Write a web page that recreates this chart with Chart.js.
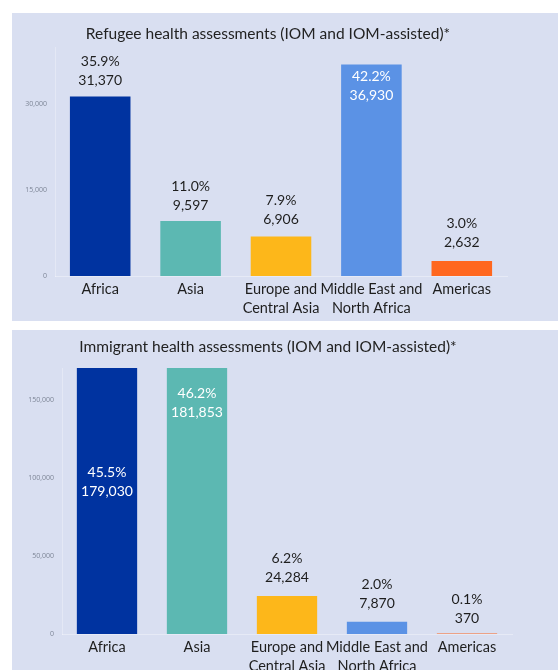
<!DOCTYPE html>
<html lang="en">
<head>
    <meta charset="UTF-8">
    <title>Health assessments by region</title>
    <script src="https://cdn.jsdelivr.net/npm/chart.js"></script>
    <style>
        body {
            margin: 0;
            background: #ffffff;
            font-family: 'Lato', sans-serif;
        }

        .panel {
            position: absolute;
            left: 12px;
            width: 546px;
            background: #d9dff1;
        }

        #refugeePanel {
            top: 13px;
            height: 308px;
        }

        #immigrantPanel {
            top: 330px;
            height: 340px;
        }
    </style>
</head>
<body>
    <div class="panel" id="refugeePanel"><canvas id="refugeeChart"></canvas></div>
    <div class="panel" id="immigrantPanel"><canvas id="immigrantChart"></canvas></div>

    <script>
        const regions = [
            'Africa',
            'Asia',
            ['Europe and', 'Central Asia'],
            ['Middle East and', 'North Africa'],
            'Americas'
        ];
        const regionColors = ['#0033a0', '#5cb8b2', '#fdb71a', '#5b92e5', '#ff671f'];

        const refugeeValues = [31370, 9597, 6906, 36930, 2632];
        const refugeeShares = ['35.9%', '11.0%', '7.9%', '42.2%', '3.0%'];
        const refugeeTicks = [0, 15000, 30000];

        const immigrantValues = [179030, 181853, 24284, 7870, 370];
        const immigrantShares = ['45.5%', '46.2%', '6.2%', '2.0%', '0.1%'];
        const immigrantTicks = [0, 50000, 100000, 150000];

        // panel title, drawn a bit left of the canvas centre like the original
        const panelTitle = {
            id: 'panelTitle',
            afterDraw(chart, args, opts) {
                const ctx = chart.ctx;
                ctx.save();
                ctx.font = '15.5px Lato';
                ctx.fillStyle = '#222222';
                ctx.textAlign = 'center';
                ctx.textBaseline = 'middle';
                ctx.fillText(opts.text, opts.x, opts.y);
                ctx.restore();
            }
        };

        // two-line value labels; offset < 0 means above the bar, > 0 inside it
        const valueLabels = {
            id: 'valueLabels',
            afterDatasetsDraw(chart, args, opts) {
                const ctx = chart.ctx;
                const meta = chart.getDatasetMeta(0);
                const values = chart.data.datasets[0].data;
                ctx.save();
                ctx.font = '14px Lato';
                ctx.textAlign = 'center';
                ctx.textBaseline = 'middle';
                meta.data.forEach((bar, i) => {
                    const top = Math.max(bar.y, chart.chartArea.top);
                    const off = opts.offsets[i];
                    const y = top + off;
                    ctx.fillStyle = off > 0 ? '#ffffff' : '#1e1e1e';
                    ctx.fillText(opts.shares[i], bar.x, y);
                    ctx.fillText(values[i].toLocaleString('en-US'), bar.x, y + 19);
                });
                ctx.restore();
            }
        };

        function makeChart(id, title, values, shares, ticks, max, opts) {
            return new Chart(document.getElementById(id), {
                type: 'bar',
                data: {
                    labels: regions,
                    datasets: [{
                        data: values,
                        backgroundColor: regionColors,
                        barPercentage: 0.67,
                        categoryPercentage: 1.0
                    }]
                },
                options: {
                    responsive: true,
                    maintainAspectRatio: false,
                    animation: false,
                    layout: { padding: { left: 0, top: opts.top, right: opts.right, bottom: 0 } },
                    plugins: {
                        legend: { display: false },
                        tooltip: { enabled: false },
                        title: { display: false },
                        panelTitle: { text: title, x: 256, y: opts.titleY },
                        valueLabels: { shares: shares, offsets: opts.offsets }
                    },
                    scales: {
                        x: {
                            grid: { display: false, drawTicks: false },
                            border: { color: 'rgba(255,255,255,0.35)' },
                            ticks: {
                                color: '#1e1e1e',
                                padding: 4,
                                maxRotation: 0,
                                autoSkip: false,
                                font: { family: 'Lato', size: 14.5, lineHeight: 1.3 }
                            },
                            afterFit(scale) { scale.height = opts.xHeight; }
                        },
                        y: {
                            min: 0,
                            max: max,
                            grid: { display: false, drawTicks: false },
                            border: { color: 'rgba(255,255,255,0.3)' },
                            afterBuildTicks(scale) {
                                scale.ticks = ticks.map(v => ({ value: v }));
                            },
                            ticks: {
                                color: '#7d8596',
                                padding: 8,
                                font: { family: 'Open Sans', size: 7 },
                                callback: v => v.toLocaleString('en-US')
                            },
                            afterFit(scale) { scale.width = opts.yWidth; }
                        }
                    }
                },
                plugins: [panelTitle, valueLabels]
            });
        }

        makeChart('refugeeChart', 'Refugee health assessments (IOM and IOM-assisted)*',
            refugeeValues, refugeeShares, refugeeTicks, 40000, {
                top: 34, right: 51, yWidth: 43, xHeight: 45, titleY: 21,
                offsets: [-35, -35, -36, 12, -37]
            });

        makeChart('immigrantChart', 'Immigrant health assessments (IOM and IOM-assisted)*',
            immigrantValues, immigrantShares, immigrantTicks, 170500, {
                top: 38, right: 46, yWidth: 50, xHeight: 36, titleY: 17,
                offsets: [104, 25, -38, -37, -34]
            });
    </script>
</body>
</html>
